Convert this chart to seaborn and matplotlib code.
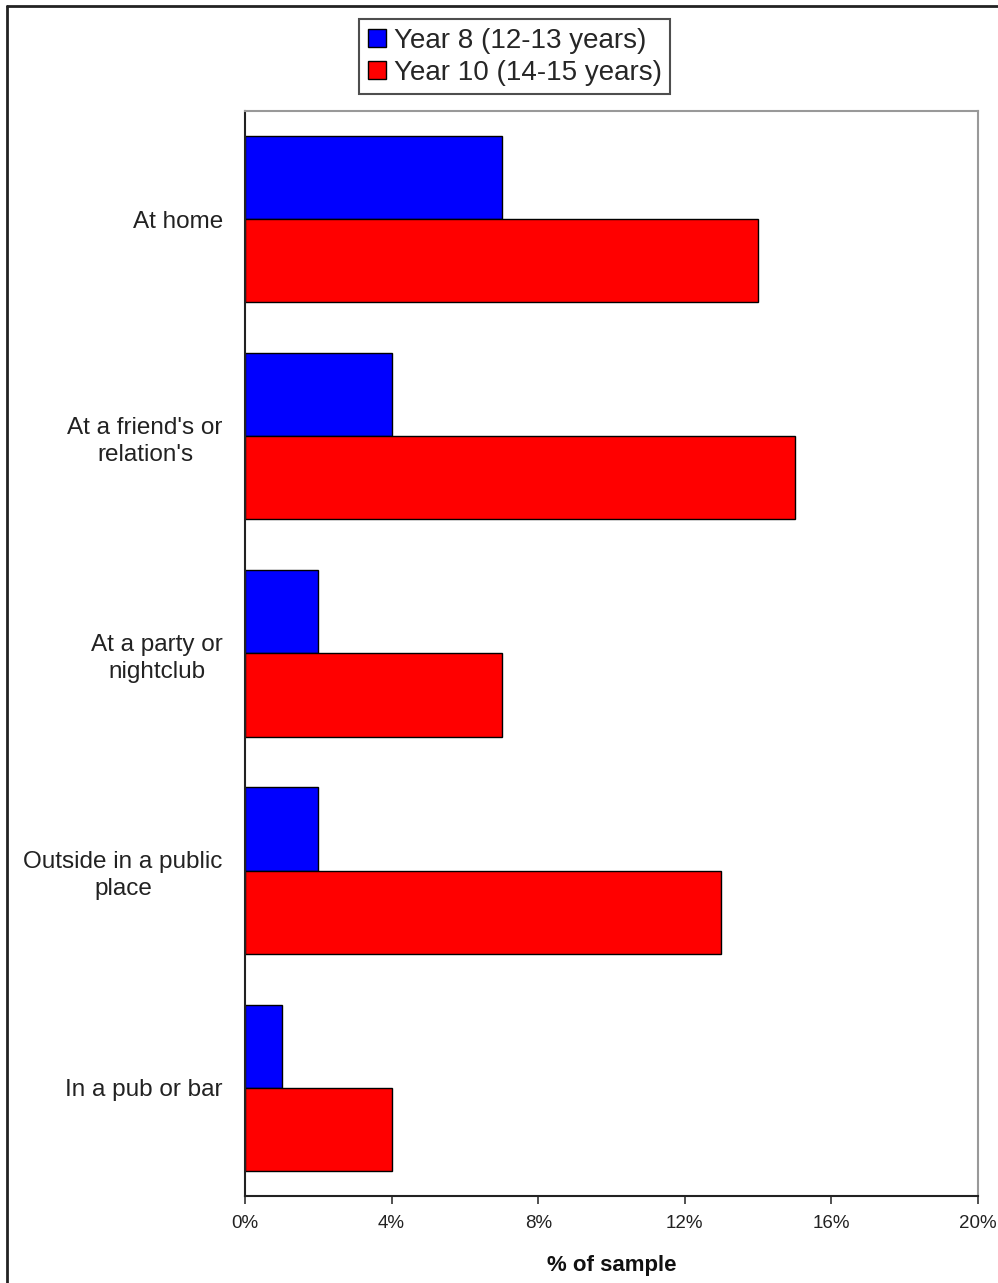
import matplotlib
matplotlib.use("Agg")
import matplotlib.pyplot as plt
import seaborn as sns
import pandas as pd
from matplotlib.ticker import FuncFormatter
from matplotlib.lines import Line2D

# Where young people drink, % of sample by school year
locations = [
    "At home",
    "At a friend's or\nrelation's",
    "At a party or\nnightclub",
    "Outside in a public\nplace",
    "In a pub or bar",
]
year8 = [7, 4, 2, 2, 1]
year10 = [14, 15, 7, 13, 4]
groups = ["Year 8 (12-13 years)", "Year 10 (14-15 years)"]
colors = ["#0000FF", "#FF0000"]
x_ticks = [0, 4, 8, 12, 16, 20]

df = pd.DataFrame({
    "location": locations * 2,
    "pct": year8 + year10,
    "group": [groups[0]] * len(locations) + [groups[1]] * len(locations),
})

sns.set_theme(style="white")
plt.rcParams["font.family"] = ["Liberation Sans", "DejaVu Sans"]

fig = plt.figure(figsize=(9.98, 12.83), dpi=100)
ax = fig.add_axes([0.2455, 0.0678, 0.7345, 0.8457])

sns.barplot(
    data=df, y="location", x="pct", hue="group",
    order=locations, hue_order=groups,
    palette=colors, saturation=1, orient="h", width=0.765,
    edgecolor="black", linewidth=1.0, errorbar=None, ax=ax,
)

ax.set_xlim(0, 20)
ax.set_ylim(len(locations) - 0.5, -0.5)
ax.set_xticks(x_ticks)
ax.xaxis.set_major_formatter(FuncFormatter(lambda v, _: f"{v:.0f}%"))
ax.tick_params(axis="x", which="major", bottom=True, length=6, width=1.2,
               color="#333333", labelsize=13.5, pad=8, labelcolor="#222222")
ax.tick_params(axis="y", left=False, labelsize=17.5, pad=10, labelcolor="#222222")
for lbl in ax.get_yticklabels():
    lbl.set_multialignment("center")
    lbl.set_linespacing(1.32)

ax.set_ylabel("")
ax.set_xlabel("% of sample", fontsize=16, fontweight="bold", labelpad=16, color="#111111")

for side in ("left", "bottom"):
    ax.spines[side].set_color("#222222")
    ax.spines[side].set_linewidth(1.5)
for side in ("top", "right"):
    ax.spines[side].set_color("#999999")
    ax.spines[side].set_linewidth(1.5)
ax.grid(False)

handles, labels = ax.get_legend_handles_labels()
ax.get_legend().remove()
leg = fig.legend(
    handles, labels, loc="upper center", bbox_to_anchor=(0.516, 0.985),
    fontsize=20, frameon=True, fancybox=False, edgecolor="#222222",
    handlelength=0.65, handleheight=0.65, handletextpad=0.3,
    labelspacing=0.22, borderpad=0.3, borderaxespad=0,
)
leg.get_frame().set_linewidth(1.5)

# Outer frame: top and left edges only
fig.add_artist(Line2D([0.007, 1.0], [1 - 6 / 1283, 1 - 6 / 1283],
                      transform=fig.transFigure, color="#222222", lw=2))
fig.add_artist(Line2D([0.007, 0.007], [0.0, 1 - 6 / 1283],
                      transform=fig.transFigure, color="#222222", lw=2))

fig.savefig("out.png", dpi=100, facecolor="white")
